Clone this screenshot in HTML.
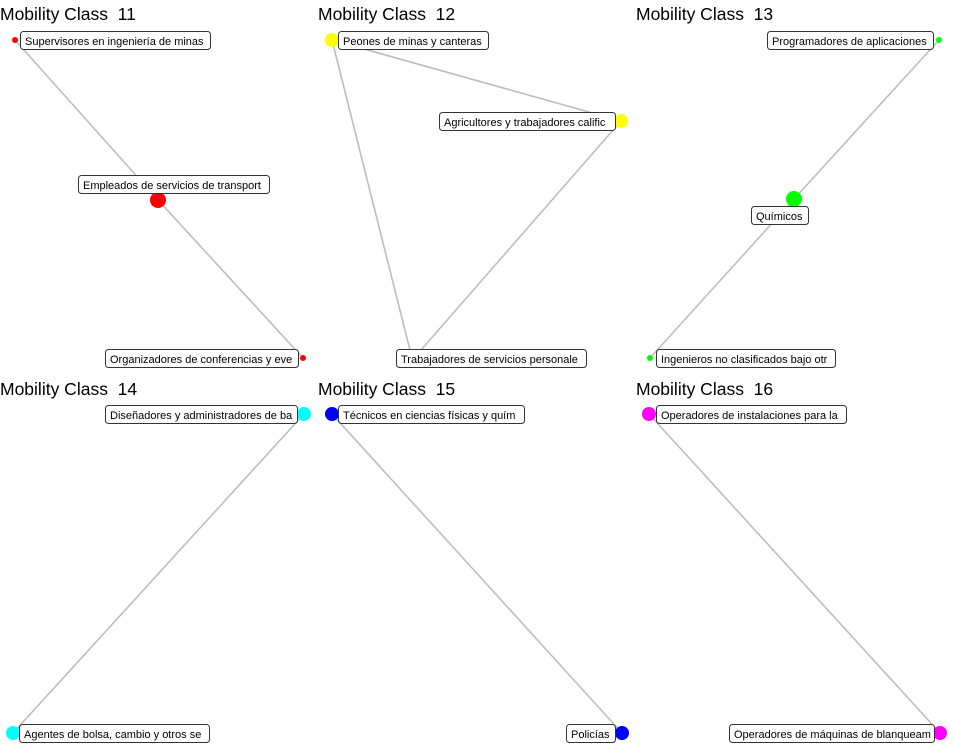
<!DOCTYPE html>
<html><head><meta charset="utf-8"><style>
html,body{margin:0;padding:0;background:#fff;}
svg{display:block;}
text{font-family:"Liberation Sans",sans-serif;}
.t{font-size:17.5px;fill:#000;}
.l{font-size:11px;fill:#000;}
.b{fill:#fff;stroke:#333;stroke-width:1;}
.e{stroke:#bdbdbd;stroke-width:1.6;fill:none;}
</style></head><body>
<svg width="954" height="749" viewBox="0 0 954 749" xmlns="http://www.w3.org/2000/svg">
<text class="t" x="0" y="20">Mobility Class &#160;11</text>
<text class="t" x="318" y="20">Mobility Class &#160;12</text>
<text class="t" x="636" y="20">Mobility Class &#160;13</text>
<text class="t" x="0" y="395">Mobility Class &#160;14</text>
<text class="t" x="318" y="395">Mobility Class &#160;15</text>
<text class="t" x="636" y="395">Mobility Class &#160;16</text>

<line class="e" x1="15" y1="40" x2="158" y2="200"/>
<line class="e" x1="158" y1="200" x2="303" y2="358"/>
<line class="e" x1="332" y1="40" x2="621" y2="121"/>
<line class="e" x1="332" y1="40" x2="412" y2="358"/>
<line class="e" x1="621" y1="121" x2="414" y2="358"/>
<line class="e" x1="939" y1="40" x2="794" y2="199"/>
<line class="e" x1="794" y1="199" x2="650" y2="358"/>
<line class="e" x1="304" y1="414" x2="13" y2="733"/>
<line class="e" x1="332" y1="414" x2="622" y2="733"/>
<line class="e" x1="649" y1="414" x2="940" y2="733"/>

<circle cx="15" cy="40" r="3" fill="#f00"/>
<circle cx="158" cy="200" r="8" fill="#f00"/>
<circle cx="303" cy="358" r="3" fill="#f00"/>
<circle cx="332" cy="40" r="7" fill="#ff0"/>
<circle cx="621" cy="121" r="7" fill="#ff0"/>
<circle cx="939" cy="40" r="3" fill="#0f0"/>
<circle cx="794" cy="199" r="8" fill="#0f0"/>
<circle cx="650" cy="358" r="3" fill="#0f0"/>
<circle cx="304" cy="414" r="7" fill="#0ff"/>
<circle cx="13" cy="733" r="7" fill="#0ff"/>
<circle cx="332" cy="414" r="7" fill="#00f"/>
<circle cx="622" cy="733" r="7" fill="#00f"/>
<circle cx="649" cy="414" r="7" fill="#f0f"/>
<circle cx="940" cy="733" r="7" fill="#f0f"/>

<rect class="b" x="20.5" y="31.5" width="190" height="18" rx="3"/>
<text class="l" x="25" y="45">Supervisores en ingeniería de minas</text>
<rect class="b" x="78.5" y="175.5" width="191" height="18" rx="3"/>
<text class="l" x="83" y="189">Empleados de servicios de transport</text>
<rect class="b" x="105.5" y="349.5" width="193" height="18" rx="3"/>
<text class="l" x="110" y="363">Organizadores de conferencias y eve</text>

<rect class="b" x="338.5" y="31.5" width="150" height="18" rx="3"/>
<text class="l" x="343" y="45">Peones de minas y canteras</text>
<rect class="b" x="439.5" y="112.5" width="176" height="18" rx="3"/>
<text class="l" x="444" y="126">Agricultores y trabajadores calific</text>
<rect class="b" x="396.5" y="349.5" width="190" height="18" rx="3"/>
<text class="l" x="401" y="363">Trabajadores de servicios personale</text>

<rect class="b" x="767.5" y="31.5" width="166" height="18" rx="3"/>
<text class="l" x="772" y="45">Programadores de aplicaciones</text>
<rect class="b" x="751.5" y="206.5" width="57" height="18" rx="3"/>
<text class="l" x="756" y="220">Químicos</text>
<rect class="b" x="656.5" y="349.5" width="179" height="18" rx="3"/>
<text class="l" x="661" y="363">Ingenieros no clasificados bajo otr</text>

<rect class="b" x="105.5" y="405.5" width="192" height="18" rx="3"/>
<text class="l" x="110" y="419">Diseñadores y administradores de ba</text>
<rect class="b" x="19.5" y="724.5" width="190" height="18" rx="3"/>
<text class="l" x="24" y="738">Agentes de bolsa, cambio y otros se</text>

<rect class="b" x="338.5" y="405.5" width="186" height="18" rx="3"/>
<text class="l" x="343" y="419">Técnicos en ciencias físicas y quím</text>
<rect class="b" x="566.5" y="724.5" width="49" height="18" rx="3"/>
<text class="l" x="571" y="738">Policías</text>

<rect class="b" x="656.5" y="405.5" width="190" height="18" rx="3"/>
<text class="l" x="661" y="419">Operadores de instalaciones para la</text>
<rect class="b" x="729.5" y="724.5" width="205" height="18" rx="3"/>
<text class="l" x="734" y="738">Operadores de máquinas de blanqueam</text>
</svg>
</body></html>
